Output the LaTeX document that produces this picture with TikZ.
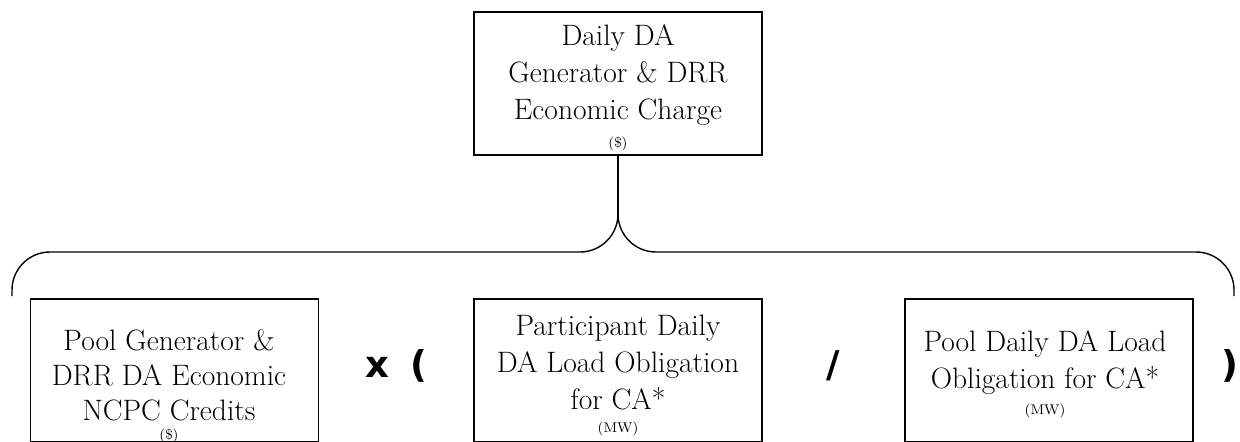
\documentclass[tikz,border=0pt]{standalone}
\usepackage{fontspec}
\newfontfamily\opfont{DejaVu Sans}
\usepackage{tikz}

\tikzset{box/.style={draw, line width=0.8pt, inner sep=0pt, minimum width=5.76cm, minimum height=2.86cm},
  boxtext/.style={align=center, inner sep=0pt, anchor=north, font=\fontsize{16.8}{21}\selectfont},
  op/.style={anchor=base, inner sep=0pt, font=\opfont\bfseries\fontsize{21}{25}\selectfont},
  tie/.style={line width=0.8pt, rounded corners=0.76cm}}
\newcommand{\unitsize}[1]{{\fontsize{8}{9}\selectfont #1}}

\begin{document}
\begin{tikzpicture}[x=0.02cm, y=0.02cm]
\useasboundingbox (0,0) rectangle (1240,441);
% boxes
\node [box] (charge) at (618,357.5) {};
\node [box] (poolcredits) at (174.5,70.5) {};
\node [box] (partload) at (618,70.5) {};
\node [box] (poolload) at (1049,70.5) {};
% texts
\node [boxtext] (chargetxt) at (618,417) {Daily DA\\Generator \& DRR\\Economic Charge\\[-5pt]\unitsize{(\$)}};
\node [boxtext] (poolcreditstxt) at (169,112) {Pool Generator \&\\[-1pt]DRR DA Economic\\[-1pt]NCPC Credits\\[-10pt]\unitsize{(\$)}};
\node [boxtext] (partloadtxt) at (618,126) {Participant Daily\\DA Load Obligation\\for CA*\\[-8pt]\unitsize{(MW)}};
\node [boxtext] (poolloadtxt) at (1045,111) {Pool Daily DA Load\\Obligation for CA*\\[-6pt]\unitsize{(MW)}};
% operators
\node [op] (times) at (377,64) {x};
\node [op] (lparen) at (419,64) {(};
\node [op] (divide) at (833,64) {/};
\node [op] (rparen) at (1230,64) {)};
% brace
\coordinate (cusp) at (618,227);
\coordinate (joint) at (618,189);
\coordinate (lend) at (12,145);
\coordinate (rend) at (1234,145);
\draw [line width=0.8pt] (charge) -- (cusp);
\draw [tie] (lend) |- (joint) -- (cusp);
\draw [tie] (rend) |- (joint) -- (cusp);

\end{tikzpicture}
\end{document}
